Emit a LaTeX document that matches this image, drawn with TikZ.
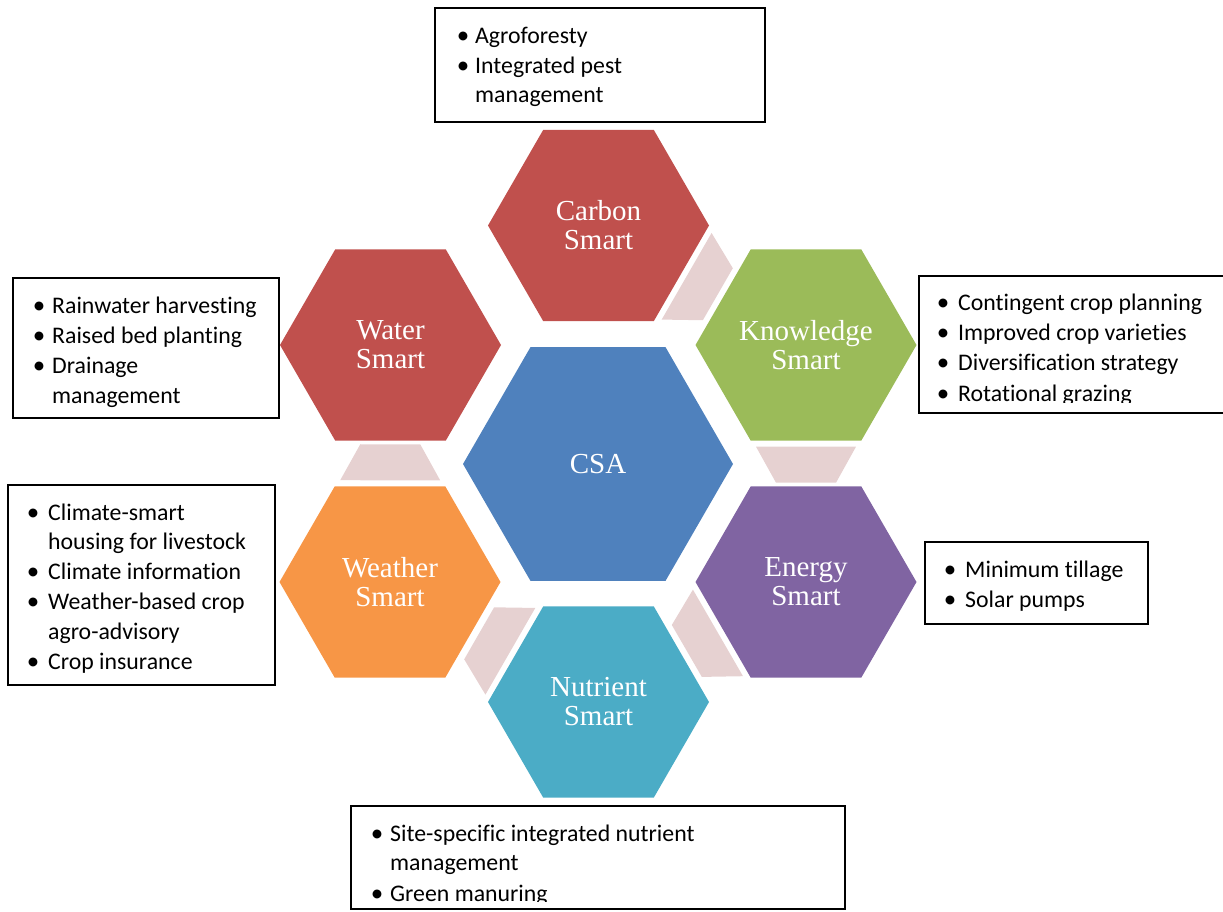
\documentclass[tikz,border=0pt]{standalone}
\usepackage{fontspec}
\setmainfont{Liberation Serif}
\newfontfamily\boxfont[Ligatures={NoCommon,NoRequired,NoContextual}]{Carlito}
\usetikzlibrary{calc}
\definecolor{cred}{HTML}{C0504D}
\definecolor{cgreen}{HTML}{9BBB59}
\definecolor{cblue}{HTML}{4F81BD}
\definecolor{corange}{HTML}{F79646}
\definecolor{cpurple}{HTML}{8064A2}
\definecolor{cteal}{HTML}{4BACC6}
\definecolor{cpink}{HTML}{E6D1D1}
\newcommand\hexa[3]{\fill[#1] (#2) +(0:#3) -- +(60:#3) -- +(120:#3) -- +(180:#3) -- +(240:#3) -- +(300:#3) -- cycle;}
\newcommand\trap[3]{%
  \coordinate (#3a) at ($(#1)!101.7pt!(#2)$);
  \coordinate (#3b) at ($(#1)!137.7pt!(#2)$);
  \fill[conn] ($(#3a)!50pt!90:(#2)$) -- ($(#3b)!30pt!90:(#2)$) -- ($(#3b)!30pt!-90:(#2)$) -- ($(#3a)!50pt!-90:(#2)$) -- cycle;}
\tikzset{
  hexlabel/.style={text=white, font=\fontsize{29}{29}\selectfont, align=center, inner sep=0pt},
  conn/.style={cpink},
  frame/.style={draw=black, line width=1.2pt, fill=white, inner sep=0pt, outer sep=0pt},
  item/.style={anchor=base west, inner sep=0pt, font=\boxfont\fontsize{23.8}{28}\selectfont},
  bul/.style={anchor=base, inner sep=0pt, font=\boxfont\fontsize{25}{28}\selectfont}
}
\begin{document}
\begin{tikzpicture}[x=1pt, y=-1pt]
\useasboundingbox (0,0) rectangle (1223,911);
% centres
\coordinate (cC) at (598.5,225.5);
\coordinate (cW) at (390.5,345);
\coordinate (cK) at (806,345);
\coordinate (cA) at (598,464);
\coordinate (cR) at (390,582);
\coordinate (cE) at (806,582);
\coordinate (cN) at (598.5,702);
% hexagons
\hexa{cred}{cC}{110.5pt}
\hexa{cred}{cW}{110.5pt}
\hexa{cgreen}{cK}{110.5pt}
\hexa{cblue}{cA}{135pt}
\hexa{corange}{cR}{110.5pt}
\hexa{cpurple}{cE}{110.5pt}
\hexa{cteal}{cN}{110.5pt}
% connectors
\trap{cC}{cK}{t1}
\trap{cK}{cE}{t2}
\trap{cE}{cN}{t3}
\trap{cN}{cR}{t4}
\trap{cR}{cW}{t5}
% labels
\node[hexlabel] (carbon) at (cC) {Carbon\\Smart};
\node[hexlabel] (water) at (cW) {Water\\Smart};
\node[hexlabel] (knowledge) at (cK) {Knowledge\\Smart};
\node[hexlabel] (csa) at (cA) {CSA};
\node[hexlabel] (weather) at (cR) {Weather\\Smart};
\node[hexlabel] (energy) at (cE) {Energy\\Smart};
\node[hexlabel] (nutrient) at (cN) {Nutrient\\Smart};
% box: top
\node[frame, minimum width=330pt, minimum height=114pt] (boxC) at (600,65) {};
\node[bul] (bC1) at (463,43.5) {\textbullet};
\node[item] (iC1) at (475,43.5) {Agroforesty};
\node[bul] (bC2) at (463,73) {\textbullet};
\node[item] (iC2) at (475,73) {Integrated pest};
\node[item] (iC3) at (475,102.5) {management};
% box: water
\node[frame, minimum width=266pt, minimum height=140pt] (boxW) at (146,348) {};
\node[bul] (bW1) at (39,313) {\textbullet};
\node[item] (iW1) at (52,313) {Rainwater harvesting};
\node[bul] (bW2) at (39,343) {\textbullet};
\node[item] (iW2) at (52,343) {Raised bed planting};
\node[bul] (bW3) at (39,373) {\textbullet};
\node[item] (iW3) at (52,373) {Drainage};
\node[item] (iW4) at (52,403) {management};
% box: knowledge
\node[frame, minimum width=306pt, minimum height=137pt] (boxK) at (1072,344.5) {};
\begin{scope}
\clip (919,277) rectangle (1225,402);
\node[bul] (bK1) at (943,310) {\textbullet};
\node[item] (iK1) at (958,310) {Contingent crop planning};
\node[bul] (bK2) at (943,340) {\textbullet};
\node[item] (iK2) at (958,340) {Improved crop varieties};
\node[bul] (bK3) at (943,370.5) {\textbullet};
\node[item] (iK3) at (958,370.5) {Diversification strategy};
\node[bul] (bK4) at (943,401) {\textbullet};
\node[item] (iK4) at (958,401) {Rotational grazing};
\end{scope}
% box: weather
\node[frame, minimum width=267pt, minimum height=200pt] (boxR) at (141.5,585) {};
\node[bul] (bR1) at (33,520) {\textbullet};
\node[item] (iR1) at (48,520) {Climate-smart};
\node[item] (iR2) at (48,549) {housing for livestock};
\node[bul] (bR3) at (33,579) {\textbullet};
\node[item] (iR3) at (48,579) {Climate information};
\node[bul] (bR4) at (33,609) {\textbullet};
\node[item] (iR4) at (48,609) {Weather-based crop};
\node[item] (iR5) at (48,639) {agro-advisory};
\node[bul] (bR6) at (33,669) {\textbullet};
\node[item] (iR6) at (48,669) {Crop insurance};
% box: energy
\node[frame, minimum width=223pt, minimum height=82pt] (boxE) at (1036.5,583) {};
\node[bul] (bE1) at (950,577) {\textbullet};
\node[item] (iE1) at (965,577) {Minimum tillage};
\node[bul] (bE2) at (950,607) {\textbullet};
\node[item] (iE2) at (965,607) {Solar pumps};
% box: nutrient
\node[frame, minimum width=494pt, minimum height=103pt] (boxN) at (598,857.5) {};
\begin{scope}
\clip (351,806) rectangle (845,901);
\node[bul] (bN1) at (377,841) {\textbullet};
\node[item] (iN1) at (390,841) {Site-specific integrated nutrient};
\node[item] (iN2) at (390,870.5) {management};
\node[bul] (bN3) at (377,901) {\textbullet};
\node[item] (iN3) at (390,901) {Green manuring};
\end{scope}
\end{tikzpicture}
\end{document}
